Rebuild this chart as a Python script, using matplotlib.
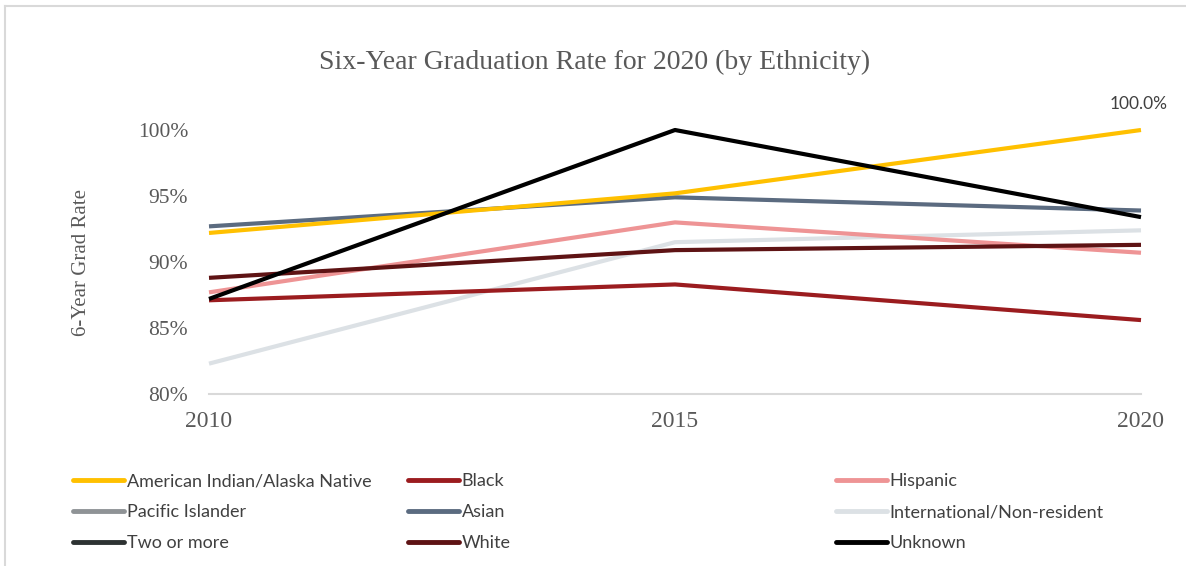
import numpy as np
import matplotlib
matplotlib.use("Agg")
import matplotlib.pyplot as plt
from matplotlib.lines import Line2D
from matplotlib.ticker import FuncFormatter

years = [2010, 2015, 2020]
series_names = ["American Indian/Alaska Native", "Black", "Hispanic",
                "Pacific Islander", "Asian", "International/Non-resident",
                "Two or more", "White", "Unknown"]
aian = [92.2, 95.2, 100.0]
black = [87.1, 88.3, 85.6]
hispanic = [87.7, 93.0, 90.7]
pacific = [np.nan, np.nan, np.nan]
asian = [92.7, 94.9, 93.9]
intl = [82.3, 91.5, 92.4]
two_more = [np.nan, np.nan, np.nan]
white = [88.8, 90.9, 91.3]
unknown = [87.2, 100.0, 93.4]
values = [aian, black, hispanic, pacific, asian, intl, two_more, white, unknown]
colors = ["#FFC000", "#9B1C1F", "#EE9495", "#8F9396", "#5B6B80", "#DCE1E5",
          "#2D3232", "#5E1314", "#000000"]
yticks = [80, 85, 90, 95, 100]

fig = plt.figure(figsize=(11.86, 5.66), dpi=100)
ax = fig.add_axes([209/1186, 1-394/566, (1141-209)/1186, (394-130)/566])

draw_order = [5, 1, 2, 4, 0, 7, 3, 6, 8]
for k, i in enumerate(draw_order):
    ax.plot(years, values[i], color=colors[i], lw=3.0, solid_capstyle='butt',
            label=series_names[i], clip_on=False, zorder=3 + k * 0.1)

ax.set_xlim(2010, 2020)
ax.set_ylim(80, 100)
ax.set_yticks(yticks)
ax.yaxis.set_major_formatter(FuncFormatter(lambda v, p: f"{v:.0f}%"))
ax.set_xticks(years)
for s in ["top", "right", "left"]:
    ax.spines[s].set_visible(False)
ax.spines["bottom"].set_color("#D9D9D9")
ax.spines["bottom"].set_linewidth(1.5)
ax.tick_params(axis="both", length=0, labelcolor="#595959")
ax.tick_params(axis="y", pad=15, labelsize=15.5)
ax.tick_params(axis="x", pad=12, labelsize=17)
for lab in ax.get_xticklabels() + ax.get_yticklabels():
    lab.set_fontfamily("Liberation Serif")

ax.set_ylabel("6-Year Grad Rate", fontfamily="Liberation Serif", fontsize=15,
              color="#595959", labelpad=34)

ax.annotate(f"{aian[2]:.1f}%", (years[2], aian[2]), xytext=(-2, 13), textcoords="offset points",
            ha="center", va="bottom", fontfamily="Lato", fontsize=12.5, color="#404040")

fig.text(0.5 + 2/1186, 1-62/566, "Six-Year Graduation Rate for 2020 (by Ethnicity)",
         ha="center", va="center", fontfamily="Liberation Serif", fontsize=20, color="#595959")

cols = [[0, 3, 6], [1, 4, 7], [2, 5, 8]]
col_x = [57/1186, 392/1186, 820/1186]
for cx, idxs in zip(col_x, cols):
    hs = [Line2D([0], [0], color=colors[i], lw=3.5, solid_capstyle='round') for i in idxs]
    leg = fig.legend(hs, [series_names[i] for i in idxs], loc="upper left",
                     bbox_to_anchor=(cx, 1-457/566), frameon=False, handlelength=2.8,
                     handletextpad=0.15, labelspacing=0.82,
                     prop={"family": "Lato", "size": 13})
    for t in leg.get_texts():
        t.set_color("#404040")

fig.add_artist(Line2D([5/1186, 5/1186], [0, 1-6/566], color="#D9D9D9", lw=1.5))
fig.add_artist(Line2D([5/1186, 1], [1-6/566, 1-6/566], color="#D9D9D9", lw=1.5))

fig.savefig("out.png", dpi=100, facecolor="white")
